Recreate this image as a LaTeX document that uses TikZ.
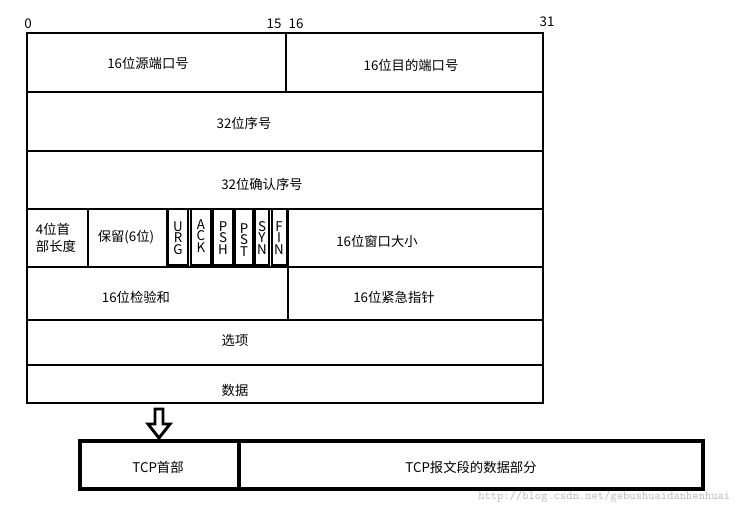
\documentclass[tikz,border=0pt]{standalone}
\usepackage{fontspec}
\setmainfont{Noto Sans CJK SC}
\begin{document}
\begin{tikzpicture}[x=0.75pt,y=-0.75pt,
  cell/.style={draw,line width=1.4pt},
  lbl/.style={font=\fontsize{10}{11}\selectfont},
  flag/.style={font=\fontsize{10}{8.5}\selectfont,align=center,inner sep=0pt},
  thick box/.style={draw,line width=3pt}]
\useasboundingbox (0,0) rectangle (743,518);
% bit numbers
\node[lbl] (b0) at (28,24) {0};
\node[lbl] (b15) at (274,24) {15};
\node[lbl] (b16) at (296,24) {16};
\node[lbl] (b31) at (547,22) {31};
% rows
\draw[cell] (27,33) rectangle (543,403);
\foreach \y in {92,151,209,267,320,365} \draw[cell] (27,\y) -- (543,\y);
\draw[cell] (286,33) -- (286,92);
\draw[cell] (288,209) -- (288,320);
\foreach \x in {88,167} \draw[cell] (\x,209) -- (\x,267);
\foreach \a/\b in {168/188,191/211,213/233,235/253,255/269,272/287}
  \draw[line width=1.2pt] (\a,209) -- (\a,265) -- (\b,265) -- (\b,209);
\node[lbl] (sp) at (148,63) {16位源端口号};
\node[lbl] (dp) at (411,65) {16位目的端口号};
\node[lbl] (seq) at (244,123) {32位序号};
\node[lbl] (ack) at (262,184) {32位确认序号};
\node[lbl,align=left] (hl) at (56,238) {4位首\\[2pt]部长度};
\node[lbl] (rs) at (126,237) {保留(6位)};
\node[flag] (urg) at (178,238) {U\\R\\G};
\node[flag] (ackf) at (201,236) {A\\C\\K};
\node[flag] (psh) at (223,238) {P\\S\\H};
\node[flag] (pst) at (244,240) {P\\S\\T};
\node[flag] (syn) at (262,238) {S\\Y\\N};
\node[flag] (fin) at (279,238) {F\\I\\N};
\node[lbl] (win) at (377,241) {16位窗口大小};
\node[lbl] (cs) at (136,297) {16位检验和};
\node[lbl] (up) at (394,297) {16位紧急指针};
\node[lbl] (opt) at (235,340) {选项};
\node[lbl] (dat) at (235,390) {数据};
% bottom
\draw[thick box] (80,441) rectangle (703,489);
\draw[thick box] (239,441) -- (239,491);
\node[lbl] (hdr) at (158,467) {TCP首部};
\node[lbl] (dp2) at (471,467) {TCP报文段的数据部分};
% arrow
\draw[line width=2.2pt,fill=white,line join=miter] (155,409) -- (163,409) -- (163,424) -- (170,424) -- (159,438) -- (148,424) -- (155,424) -- cycle;
\node[font=\ttfamily\fontsize{9}{10}\selectfont,text=black!25,anchor=east] (wm) at (735,497) {http://blog.csdn.net/gebushuaidanhenhuai};
\end{tikzpicture}
\end{document}
